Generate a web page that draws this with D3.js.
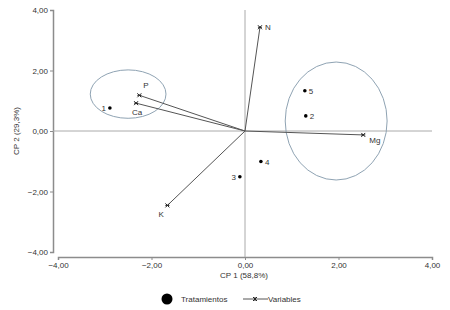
<!DOCTYPE html>
<html><head><meta charset="utf-8">
<script src="https://cdn.jsdelivr.net/npm/d3@7"></script>
<style>body{margin:0;background:#fff}svg{font-family:"Liberation Sans",Arial,sans-serif}</style>
</head><body>
<svg id="c" width="450" height="310"></svg>
<script>
const treatLabels = ["1","2","3","4","5"];
const treatX = [-2.89, 1.30, -0.11, 0.34, 1.28];
const treatY = [0.76, 0.50, -1.51, -1.01, 1.33];
const varLabels = ["N","P","Ca","Mg","K"];
const varX = [0.32, -2.26, -2.33, 2.53, -1.66];
const varY = [3.43, 1.18, 0.92, -0.13, -2.46];
const xTicks = [-4, -2, 0, 2, 4];
const yTicks = [-4, -2, 0, 2, 4];
const groupCx = [-2.5, 1.95];
const groupCy = [1.22, 0.33];
const groupRx = [0.81, 1.09];
const groupRy = [0.80, 1.95];

const svg = d3.select("#c");
const x = d3.scaleLinear().domain([-4, 4]).range([58, 432]);
const y = d3.scaleLinear().domain([-4, 4]).range([252, 10]);
const fmt = d => d3.format(".2f")(d).replace(".", ",");
const axisCol = "#8c8c8c";

// axes
const gx = svg.append("g").attr("transform", "translate(0,257)")
  .call(d3.axisBottom(x).tickValues(xTicks).tickFormat(fmt).tickSize(3).tickPadding(2));
const gy = svg.append("g").attr("transform", "translate(53,0)")
  .call(d3.axisLeft(y).tickValues(yTicks).tickFormat(fmt).tickSize(3).tickPadding(2));
[gx, gy].forEach(g => {
  g.select(".domain").attr("stroke", axisCol).attr("stroke-width", 1.5);
  g.selectAll(".tick line").attr("stroke", axisCol);
  g.selectAll(".tick text").attr("fill", "#333").style("font-size", "8px").style("font-family", "Liberation Sans, Arial, sans-serif");
});

// reference lines
svg.append("line").attr("x1", x(0)).attr("x2", x(0)).attr("y1", y(4)).attr("y2", 257)
  .attr("stroke", "#aaa").attr("stroke-width", 1);
svg.append("line").attr("x1", 53).attr("x2", x(4)).attr("y1", y(0)).attr("y2", y(0))
  .attr("stroke", "#aaa").attr("stroke-width", 1);

// ellipses
svg.selectAll("ellipse.g").data(groupCx).join("ellipse")
  .attr("cx", (d, i) => x(d)).attr("cy", (d, i) => y(groupCy[i]))
  .attr("rx", (d, i) => x(groupRx[i]) - x(0)).attr("ry", (d, i) => y(0) - y(groupRy[i]))
  .attr("fill", "none").attr("stroke", "#8fa3b3").attr("stroke-width", 1);

// vectors
const vg = svg.append("g");
varLabels.forEach((lab, i) => {
  const px = x(varX[i]), py = y(varY[i]);
  vg.append("line").attr("x1", x(0)).attr("y1", y(0)).attr("x2", px).attr("y2", py)
    .attr("stroke", "#555").attr("stroke-width", 1);
  const s = 2;
  vg.append("path").attr("d", `M${px-s},${py-s}L${px+s},${py+s}M${px-s},${py+s}L${px+s},${py-s}M${px-s},${py}L${px+s},${py}`)
    .attr("stroke", "#222").attr("stroke-width", 1);
});
const varOff = {N: [5, 3, "start"], P: [4, -7, "start"], Ca: [-4, 12, "start"], Mg: [6, 8, "start"], K: [-9, 12, "start"]};
vg.selectAll("text").data(varLabels).join("text")
  .attr("x", (d, i) => x(varX[i]) + varOff[d][0])
  .attr("y", (d, i) => y(varY[i]) + varOff[d][1])
  .attr("text-anchor", d => varOff[d][2])
  .style("font-size", "8px").attr("fill", "#333").text(d => d);

// treatments
const tg = svg.append("g");
tg.selectAll("circle").data(treatLabels).join("circle")
  .attr("cx", (d, i) => x(treatX[i])).attr("cy", (d, i) => y(treatY[i])).attr("r", 1.8).attr("fill", "#000");
const tOff = {"1": [-4, "end"], "2": [4, "start"], "3": [-4, "end"], "4": [4, "start"], "5": [4, "start"]};
tg.selectAll("text").data(treatLabels).join("text")
  .attr("x", (d, i) => x(treatX[i]) + tOff[d][0])
  .attr("y", (d, i) => y(treatY[i]) + 3)
  .attr("text-anchor", d => tOff[d][1])
  .style("font-size", "8px").attr("fill", "#333").text(d => d);

// axis titles
svg.append("text").attr("x", 244).attr("y", 278).attr("text-anchor", "middle")
  .style("font-size", "8px").attr("fill", "#333").text("CP 1 (58,8%)");
svg.append("text").attr("transform", "translate(19,131) rotate(-90)").attr("text-anchor", "middle")
  .style("font-size", "8px").attr("fill", "#333").text("CP 2 (29,3%)");

// legend
svg.append("circle").attr("cx", 167).attr("cy", 299).attr("r", 5.5).attr("fill", "#000");
svg.append("text").attr("x", 181).attr("y", 302).style("font-size", "8px").attr("fill", "#333").text("Tratamientos");
svg.append("line").attr("x1", 243).attr("x2", 268).attr("y1", 299).attr("y2", 299).attr("stroke", "#555");
{
  const px = 255, py = 299, s = 2;
  svg.append("path").attr("d", `M${px-s},${py-s}L${px+s},${py+s}M${px-s},${py+s}L${px+s},${py-s}M${px},${py-s}L${px},${py+s}`)
    .attr("stroke", "#222").attr("stroke-width", 1);
}
svg.append("text").attr("x", 268).attr("y", 302).style("font-size", "8px").attr("fill", "#333").text("Variables");
</script>
</body></html>
